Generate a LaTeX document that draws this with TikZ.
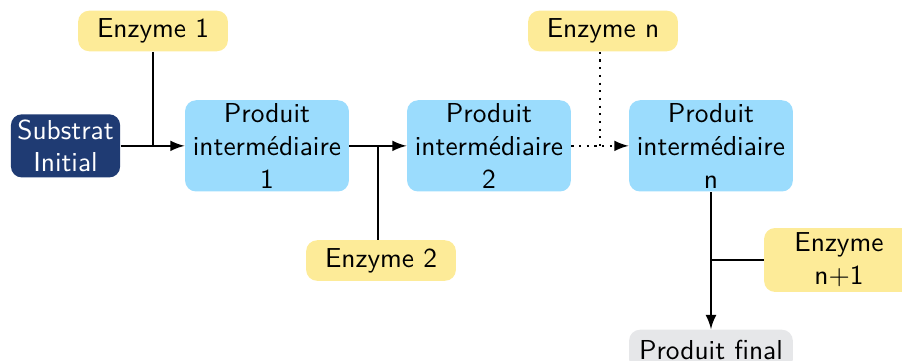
\documentclass[tikz,border=0pt]{standalone}
\usetikzlibrary{calc}
\definecolor{substrat}{RGB}{31,59,115}
\definecolor{produit}{RGB}{155,220,253}
\definecolor{enzyme}{RGB}{253,235,152}
\definecolor{final}{RGB}{230,231,233}
\begin{document}
\begin{tikzpicture}[
		font=\sffamily,
		every node/.style={align=center, inner sep=0pt, rounded corners=4pt},
		subst/.style={
				fill=substrat,
				text=white,
				minimum width=1.40cm,
				minimum height=0.81cm,
			},
		prod/.style={
				fill=produit,
				minimum width=2.10cm,
				minimum height=1.17cm,
			},
		enz/.style={
				fill=enzyme,
				minimum width=1.92cm,
				minimum height=0.52cm,
			},
		fin/.style={
				fill=final,
				minimum width=2.10cm,
				minimum height=0.52cm,
			},
		link/.style={thick},
	]
	\useasboundingbox (0,0) rectangle (11.564,-4.628);

	\node[subst] (sub) at (0.84,-1.87) {Substrat\\Initial};
	\node[prod] (p1) at (3.423,-1.87) {Produit\\intermédiaire\\1};
	\node[prod] (p2) at (6.269,-1.87) {Produit\\intermédiaire\\2};
	\node[prod] (pn) at (9.115,-1.87) {Produit\\intermédiaire\\n};
	\node[enz] (e1) at (1.962,-0.397) {Enzyme 1};
	\node[enz] (e2) at (4.885,-3.34) {Enzyme 2};
	\node[enz] (en) at (7.731,-0.397) {Enzyme n};
	\node[enz, minimum height=0.82cm] (en1) at (10.756,-3.333) {Enzyme\\n+1};
	\node[fin] (final) at (9.115,-4.487) {Produit final};

	\coordinate (j1) at ($(sub.east)!.5!(p1.west)$);
	\coordinate (j2) at ($(p1.east)!.5!(p2.west)$);
	\coordinate (jn) at ($(p2.east)!.5!(pn.west)$);

	\draw[link,-latex] (sub) -- (p1);
	\draw[link] (e1.south -| j1) -- (j1);
	\draw[link,-latex] (p1) -- (p2);
	\draw[link] (j2) -- (j2 |- e2.north);
	\draw[link,dotted,-latex] (p2) -- (pn);
	\draw[link,dotted] (en.south -| jn) -- (jn);
	\draw[link,-latex] (pn) -- (final);
	\draw[link] (en1.west) -- (en1.west -| pn);
\end{tikzpicture}
\end{document}
